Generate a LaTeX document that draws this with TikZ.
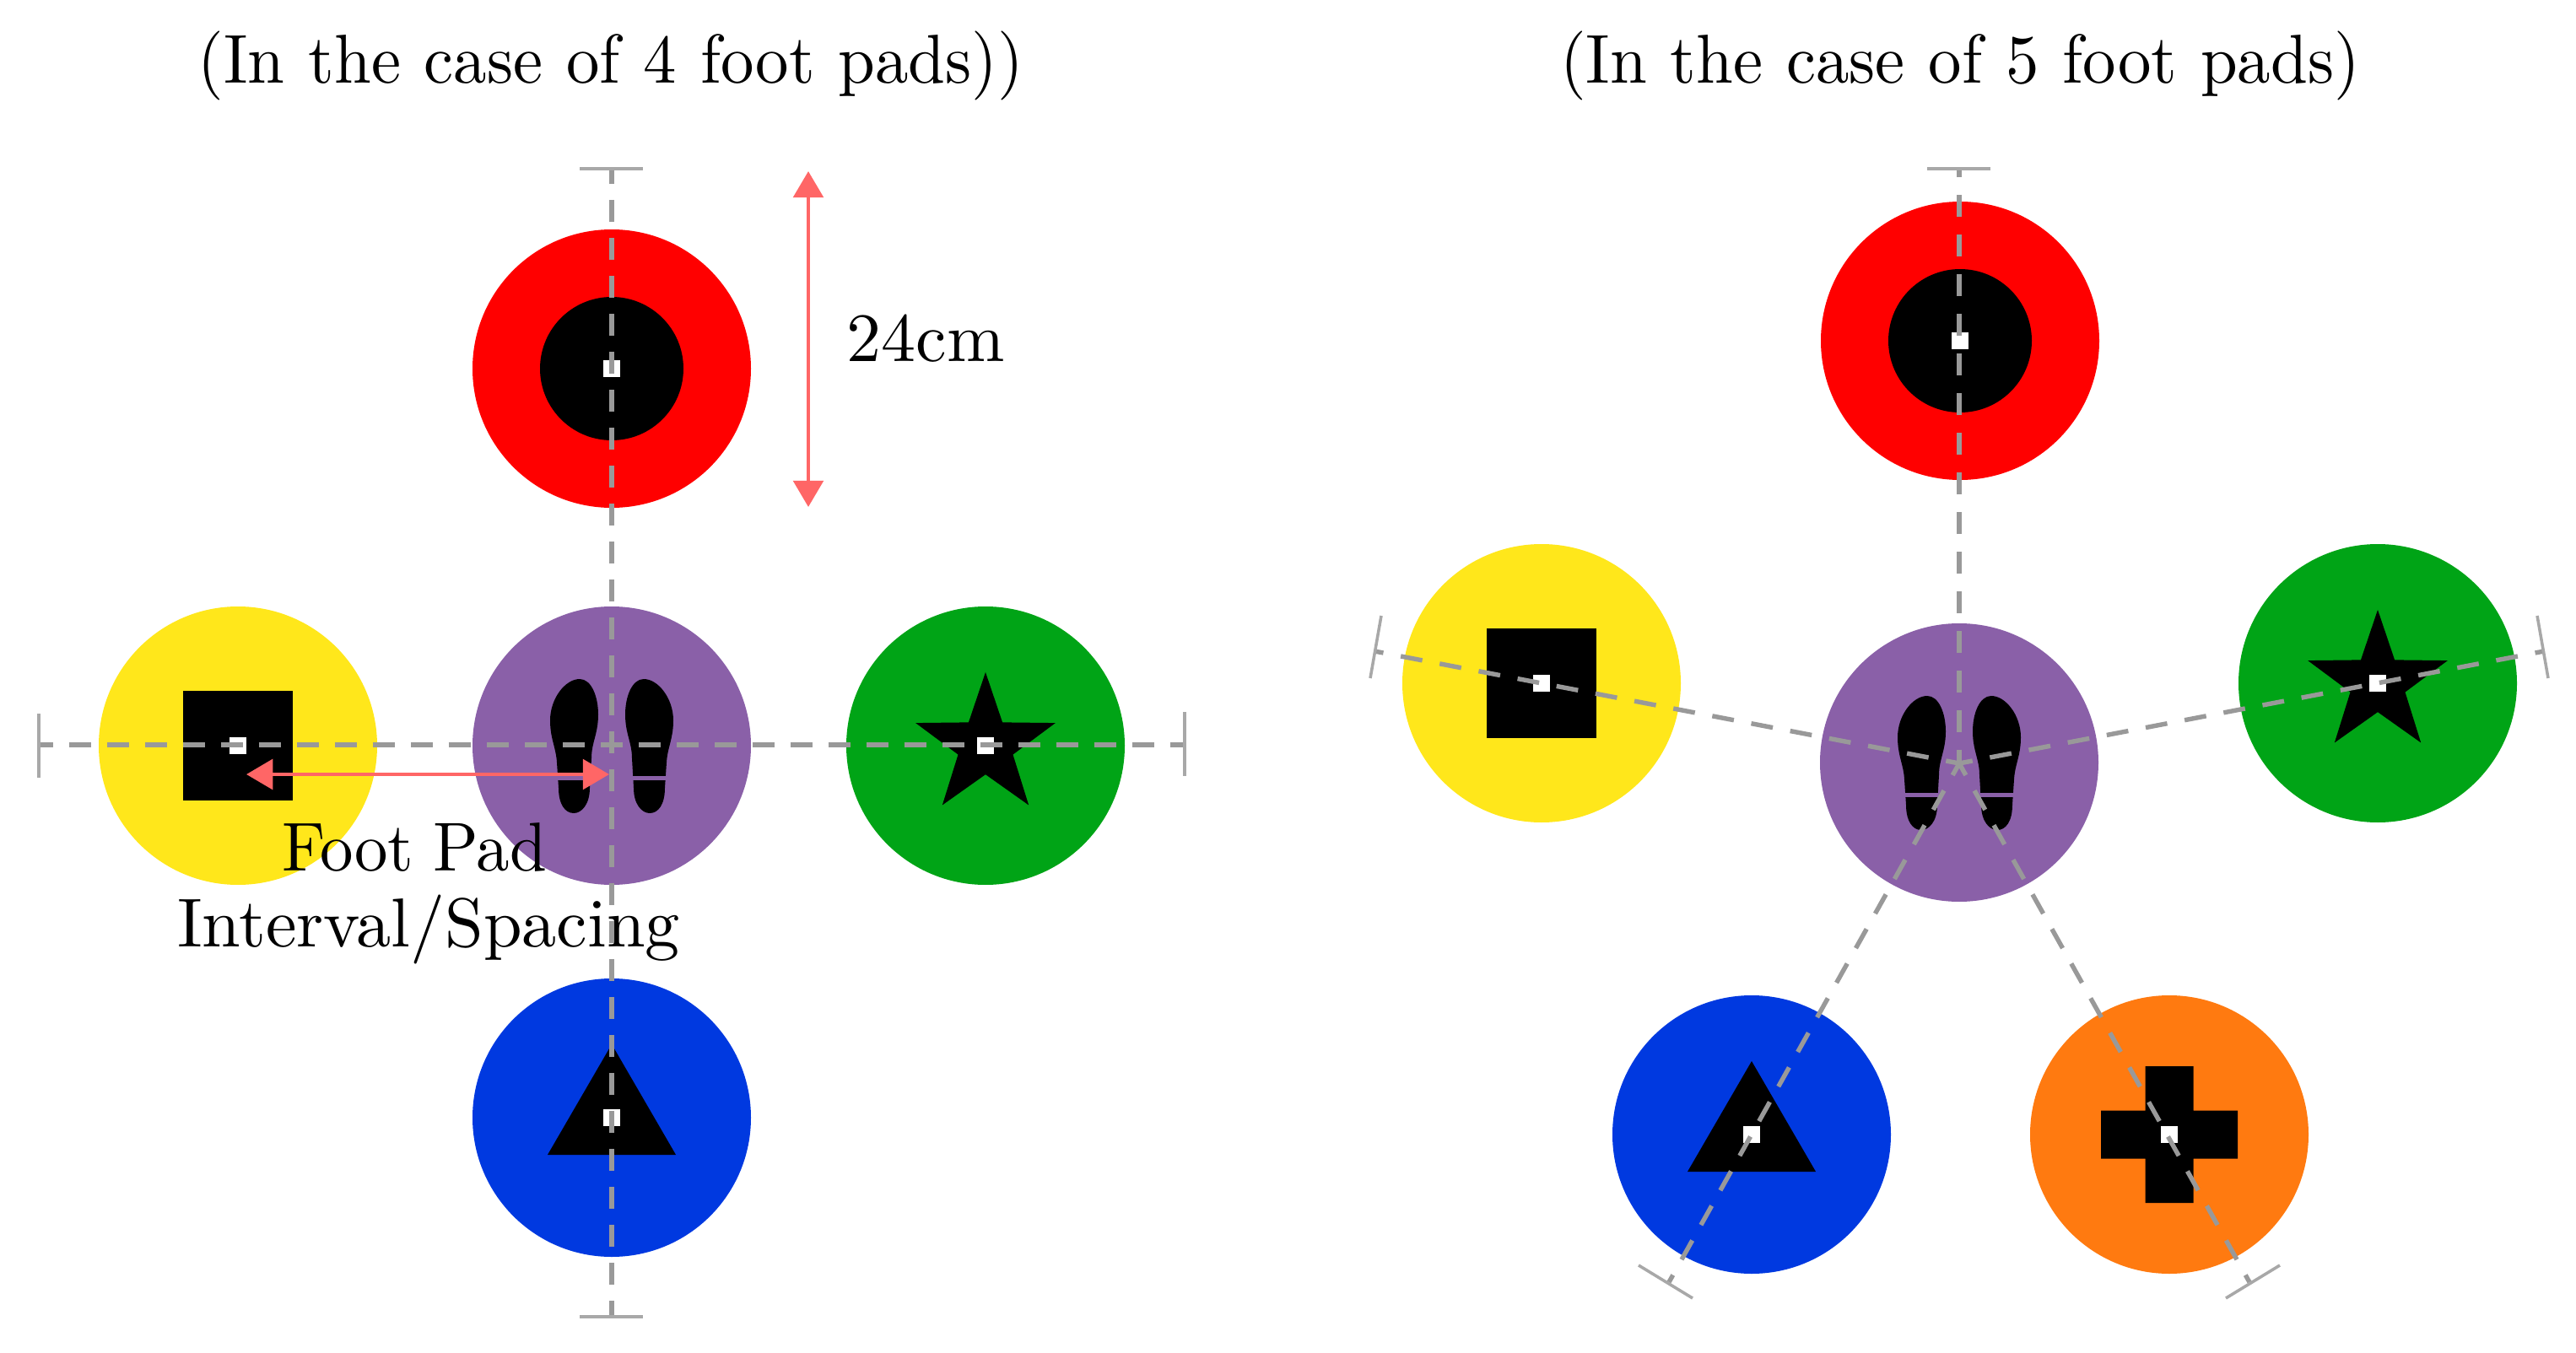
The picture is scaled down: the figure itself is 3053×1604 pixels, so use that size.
\documentclass[tikz,border=0pt]{standalone}
\usetikzlibrary{arrows.meta,shapes.geometric}
\definecolor{padred}{HTML}{FF0000}
\definecolor{padyellow}{HTML}{FFE71B}
\definecolor{padgreen}{HTML}{00A416}
\definecolor{padpurple}{HTML}{8A60A8}
\definecolor{padblue}{HTML}{0039E0}
\definecolor{padorange}{HTML}{FF7A10}
\definecolor{pinkline}{HTML}{FF6666}
\definecolor{dashgray}{HTML}{999999}
\definecolor{tickgray}{HTML}{A8A8A8}
\font\labfont="[lmroman10-regular.otf]" at 19.7pt
\font\labfontn="[lmroman10-regular.otf]:extend=0.96" at 19.7pt
\tikzset{
  pad/.style={circle,minimum size=79.2pt,inner sep=0pt,outer sep=0pt},
  blackdisc/.style={circle,fill=black,minimum size=40.8pt,inner sep=0pt,outer sep=0pt},
  blacksquare/.style={rectangle,fill=black,minimum size=31.4pt,inner sep=0pt,outer sep=0pt},
  blackstar/.style={star,star points=5,star point ratio=2.55,fill=black,minimum size=41.8pt,inner sep=0pt,outer sep=0pt},
  whitedot/.style={rectangle,fill=white,minimum size=4.8pt,inner sep=0pt,outer sep=0pt},
  dashL/.style={draw=dashgray,line width=1.3pt,dash pattern=on 6.24pt off 4.56pt},
  dashR/.style={draw=dashgray,line width=1.3pt,dash pattern=on 6.24pt off 5.04pt,dash phase=2.4pt},
  tickline/.style={draw=tickgray,line width=.85pt},
  measure/.style={draw=pinkline,line width=1.15pt,{Triangle[length=7.5pt,width=8.5pt]}-{Triangle[length=7.5pt,width=8.5pt]}},
  label/.style={font=\labfont,anchor=base,inner sep=0pt,text=black},
  widelabel/.style={font=\labfontn,anchor=base,inner sep=0pt,text=black},
  triangleshape/.pic={\fill[black] (0,-87) -- (76,44) -- (-76,44) -- cycle;},
  crossshape/.pic={\fill[black] (-28.5,-81) -- (28.5,-81) -- (28.5,-28.5) -- (81,-28.5) -- (81,28.5) -- (28.5,28.5) -- (28.5,81) -- (-28.5,81) -- (-28.5,28.5) -- (-81,28.5) -- (-81,-28.5) -- (-28.5,-28.5) -- cycle;},
  soleshape/.pic={
    \fill[black] (-38,-79) .. controls (-24,-79) and (-16,-58) .. (-16,-37)
      .. controls (-16,-14) and (-24,-4) .. (-24,15) -- (-26,50)
      .. controls (-26,70) and (-36,80) .. (-45,80)
      .. controls (-55,80) and (-63,70) .. (-63,50) -- (-65,20)
      .. controls (-66,2) and (-73,-8) .. (-73,-30)
      .. controls (-73,-56) and (-55,-79) .. (-38,-79) -- cycle;
    \fill[padpurple] (-70,36) rectangle (-20,41);
  }
}
\begin{document}
\begin{tikzpicture}[x=0.24pt,y=-0.24pt]
\useasboundingbox (0,0) rectangle (3053,1604);
% ---------- left diagram: pads
\node[pad,fill=padred] (Lred) at (725,437) {};
\node[pad,fill=padyellow] (Lyellow) at (282,884) {};
\node[pad,fill=padpurple] (Lpurple) at (725,884) {};
\node[pad,fill=padgreen] (Lgreen) at (1168,884) {};
\node[pad,fill=padblue] (Lblue) at (725,1325) {};
\node[blackdisc] (Ldisc) at (Lred) {};
\node[blacksquare] (Lsq) at (Lyellow) {};
\node[blackstar] (Lstar) at (Lgreen) {};
\pic at (Lblue) {triangleshape};
\pic at (Lpurple) {soleshape};
\pic[xscale=-1] at (Lpurple) {soleshape};
\node[whitedot] (Lw1) at (Lred) {};
\node[whitedot] (Lw2) at (Lyellow) {};
\node[whitedot] (Lw3) at (Lgreen) {};
\node[whitedot] (Lw4) at (Lblue) {};
% left axes
\coordinate (Lleft) at (46,883);
\coordinate (Lright) at (1404,883);
\coordinate (Ltop) at (725,200);
\coordinate (Lbot) at (725,1561);
\draw[dashL,dash phase=2.16pt] (Lleft) -- (Lright);
\draw[dashL,dash phase=1.92pt] (Ltop) -- (Lbot);
\draw[tickline] (46,846) -- (46,922);
\draw[tickline] (1404,844) -- (1404,920);
\draw[tickline] (687,200) -- (762,200);
\draw[tickline] (687,1561) -- (762,1561);
% left measures
\coordinate (Ma) at (292,918);
\coordinate (Mb) at (722,918);
\coordinate (Mc) at (958,203);
\coordinate (Md) at (958,601);
\draw[measure] (Ma) -- (Mb);
\draw[measure] (Mc) -- (Md);
% ---------- right diagram: pads
\node[pad,fill=padred] (Rred) at (2323,404) {};
\node[pad,fill=padyellow] (Ryellow) at (1827,810) {};
\node[pad,fill=padpurple] (Rpurple) at (2322,904) {};
\node[pad,fill=padgreen] (Rgreen) at (2818,810) {};
\node[pad,fill=padblue] (Rblue) at (2076,1345) {};
\node[pad,fill=padorange] (Rorange) at (2571,1345) {};
\node[blackdisc] (Rdisc) at (Rred) {};
\node[blacksquare] (Rsq) at (Ryellow) {};
\node[blackstar] (Rstar) at (Rgreen) {};
\pic at (Rblue) {triangleshape};
\pic at (Rorange) {crossshape};
\pic at (Rpurple) {soleshape};
\pic[xscale=-1] at (Rpurple) {soleshape};
\node[whitedot] (Rw1) at (Rred) {};
\node[whitedot] (Rw2) at (Ryellow) {};
\node[whitedot] (Rw3) at (Rgreen) {};
\node[whitedot] (Rw4) at (Rblue) {};
\node[whitedot] (Rw5) at (Rorange) {};
% right axes
\coordinate (Rc) at (2322,905);
\coordinate (Rtop) at (2322,200);
\coordinate (Rl) at (1629,772);
\coordinate (Rr) at (3015,772);
\coordinate (Rbl) at (1978,1520);
\coordinate (Rbr) at (2666,1520);
\draw[dashR] (Rc) -- (Rtop);
\draw[dashR] (Rc) -- (Rl);
\draw[dashR] (Rc) -- (Rr);
\draw[dashR] (Rc) -- (Rbl);
\draw[dashR] (Rc) -- (Rbr);
\draw[tickline] (2284,200) -- (2359,200);
\draw[tickline] (1637,730) -- (1624,804);
\draw[tickline] (3007,730) -- (3020,804);
\draw[tickline] (1942,1500) -- (2006,1539);
\draw[tickline] (2702,1500) -- (2638,1539);
% ---------- labels
\node[widelabel] (T1) at (724,99) {\spaceskip=6.7pt (In the case of 4 foot pads))};
\node[widelabel] (T2) at (2323,99) {\spaceskip=6.7pt (In the case of 5 foot pads)};
\node[label] (L24) at (1097,428) {24cm};
\node[widelabel] (LF) at (491,1032) {\spaceskip=5.4pt Foot Pad};
\node[label] (LI) at (508,1122) {Interval/Spacing};
\end{tikzpicture}
\end{document}
